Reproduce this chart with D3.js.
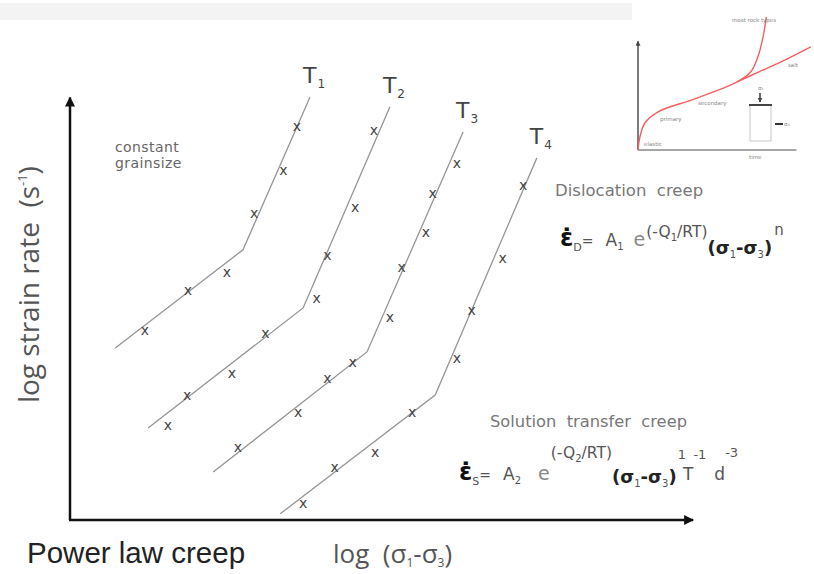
<!DOCTYPE html>
<html>
<head>
<meta charset="utf-8">
<script src="https://cdn.jsdelivr.net/npm/d3@7"></script>
<style>
  body { margin: 0; background: #fff; }
  svg { display: block; }
  text { white-space: pre; }
</style>
</head>
<body>
<div class="chart"></div>
<script>
/*
----------------------------------------------------------
                   data
----------------------------------------------------------
*/
// four temperatures, T1 (coldest) .. T4
var temps = ["1", "2", "3", "4"];

// each line: start, kink (regime change), end  (log stress, log strain rate)
var lineStress = [
	[7.3, 27.9, 38.7],
	[12.6, 37.6, 51.6],
	[23.1, 47.9, 63.4],
	[33.9, 58.9, 75.3]
];
var lineRate = [
	[39.1, 61.4, 96.1],
	[20.9, 48.2, 93.9],
	[10.9, 38.2, 88.2],
	[1.4, 28.4, 82.3]
];

// measured points ("x")
var pointStress = [
	[12.1, 19.0, 25.3, 29.7, 34.4, 36.6],
	[15.8, 18.9, 26.1, 31.5, 39.8, 41.5, 46.0, 49.0],
	[27.1, 36.8, 41.5, 45.6, 51.6, 53.5, 57.4, 58.5, 62.4],
	[37.6, 42.7, 49.2, 55.2, 62.4, 64.8, 69.8, 73.1]
];
var pointRate = [
	[43.2, 52.3, 56.4, 69.8, 79.5, 89.5],
	[21.6, 28.4, 33.4, 42.5, 50.5, 60.2, 71.1, 88.6],
	[16.6, 24.5, 32.3, 35.9, 46.1, 57.5, 65.5, 74.3, 81.1],
	[3.9, 12.0, 15.5, 24.5, 36.8, 47.7, 59.5, 76.1]
];

// inset creep curve (time, strain)
var creepTime   = [0, 1.2, 4.3, 12.3, 33.3, 53.7, 61.7];
var creepStrain = [0, 11.6, 24.1, 33.9, 44.6, 55.4, 60.7];
var rockTime    = [61.7, 70.4, 75.3, 78.4, 80.2];
var rockStrain  = [60.7, 69.6, 84.8, 102.7, 118.8];
var saltTime    = [61.7, 75.3, 90.7, 108];
var saltStrain  = [60.7, 69.6, 79.5, 92];

/*
----------------------------------------------------------
                   the svg
----------------------------------------------------------
*/
var W = 814, H = 574;
var svg = d3.select(".chart").append("svg")
	.attr("width", W)
	.attr("height", H);

var gothic = "'DejaVu Sans', sans-serif";
var lineGrey = "#959595";

// faint header strip
svg.append("rect")
	.attr("x", 0).attr("y", 3)
	.attr("width", 632).attr("height", 17)
	.attr("fill", "#f3f3f3");

var x = d3.scaleLinear().domain([0, 100]).range([70, 690]);
var y = d3.scaleLinear().domain([0, 100]).range([520, 80]);

var defs = svg.append("defs");
defs.append("marker")
	.attr("id", "arrow")
	.attr("viewBox", "0 0 10 10")
	.attr("refX", 9).attr("refY", 5)
	.attr("markerWidth", 10).attr("markerHeight", 10)
	.attr("markerUnits", "userSpaceOnUse")
	.attr("orient", "auto")
	.append("path")
		.attr("d", "M0,0 L10,5 L0,10 z")
		.attr("fill", "#111");
defs.append("marker")
	.attr("id", "arrowSmall")
	.attr("viewBox", "0 0 10 10")
	.attr("refX", 9).attr("refY", 5)
	.attr("markerWidth", 5).attr("markerHeight", 5)
	.attr("markerUnits", "userSpaceOnUse")
	.attr("orient", "auto")
	.append("path")
		.attr("d", "M0,0 L10,5 L0,10 z")
		.attr("fill", "#444");

/*
----------------------------------------------------------
                   axes
----------------------------------------------------------
*/
var axes = svg.append("g").attr("class", "axes");
axes.append("line")
	.attr("x1", x(0)).attr("y1", y(0))
	.attr("x2", x(0)).attr("y2", y(96))
	.attr("stroke", "#111").attr("stroke-width", 2.5)
	.attr("marker-end", "url(#arrow)");
axes.append("line")
	.attr("x1", x(0) - 1).attr("y1", y(0))
	.attr("x2", x(100.5)).attr("y2", y(0))
	.attr("stroke", "#111").attr("stroke-width", 2.5)
	.attr("marker-end", "url(#arrow)");

var yLabel = axes.append("text")
	.attr("transform", "translate(" + 39 + "," + y(53.5) + ") rotate(-90)")
	.attr("text-anchor", "middle")
	.attr("font-family", "'Open Sans', sans-serif")
	.attr("font-size", 28)
	.attr("fill", "#555");
yLabel.append("tspan").text("log strain rate  (s");
yLabel.append("tspan").attr("font-size", 13).attr("dy", -12).text("-1");
yLabel.append("tspan").attr("dy", 12).text(")");

var xLabel = axes.append("text")
	.attr("x", 333).attr("y", 563)
	.attr("font-family", "'Open Sans', sans-serif")
	.attr("font-size", 26)
	.attr("fill", "#555");
xLabel.append("tspan").text("log  (σ");
xLabel.append("tspan").attr("font-size", 12).attr("dy", 4).text("1");
xLabel.append("tspan").attr("dy", -4).text("-σ");
xLabel.append("tspan").attr("font-size", 12).attr("dy", 4).text("3");
xLabel.append("tspan").attr("dy", -4).text(")");

svg.append("text")
	.attr("x", 27).attr("y", 563)
	.attr("font-family", "'Liberation Sans', Arial, sans-serif")
	.attr("font-size", 29.5)
	.attr("fill", "#222")
	.text("Power law creep");

/*
----------------------------------------------------------
                   the temperature lines
----------------------------------------------------------
*/
var line = d3.line()
	.x(function(d) { return x(d[0]); })
	.y(function(d) { return y(d[1]); });

var lines = temps.map(function(t, i) {
	return {
		name: t,
		pts: d3.zip(lineStress[i], lineRate[i]),
		marks: d3.zip(pointStress[i], pointRate[i])
	};
});

var plot = svg.append("g").attr("class", "plot");
plot.selectAll(".tline").data(lines).enter()
	.append("path")
		.attr("class", "tline")
		.attr("d", function(d) { return line(d.pts); })
		.attr("fill", "none")
		.attr("stroke", lineGrey)
		.attr("stroke-width", 1.3);

plot.selectAll(".marks").data(lines).enter()
	.append("g").attr("class", "marks")
	.selectAll("text").data(function(d) { return d.marks; }).enter()
	.append("text")
		.attr("x", function(d) { return x(d[0]); })
		.attr("y", function(d) { return y(d[1]); })
		.attr("text-anchor", "middle")
		.attr("dominant-baseline", "central")
		.attr("font-family", gothic)
		.attr("font-size", 14)
		.attr("fill", "#444")
		.text("x");

var tLabels = plot.selectAll(".tlabel").data(lines).enter()
	.append("text")
		.attr("class", "tlabel")
		.attr("x", function(d) { return x(d.pts[2][0]) - 7; })
		.attr("y", function(d) { return y(d.pts[2][1]) - 14; })
		.attr("font-family", "'DejaVu Sans', sans-serif")
		.attr("font-size", 22)
		.attr("fill", "#444");
tLabels.append("tspan").text("T");
tLabels.append("tspan")
	.attr("font-size", 12)
	.attr("dx", 1)
	.attr("dy", 5)
	.text(function(d) { return d.name; });

/*
----------------------------------------------------------
                   annotations
----------------------------------------------------------
*/
var notes = svg.append("g").attr("font-family", gothic).attr("fill", "#666");
notes.append("text").attr("x", 115).attr("y", 152).attr("font-size", 14).attr("letter-spacing", 0.4).text("constant");
notes.append("text").attr("x", 115).attr("y", 168).attr("font-size", 14).attr("letter-spacing", 0.4).text("grainsize");
notes.append("text").attr("x", 555).attr("y", 196).attr("font-size", 16.5).attr("fill", "#777").text("Dislocation  creep");
notes.append("text").attr("x", 490).attr("y", 427).attr("font-size", 16.3).attr("fill", "#777").text("Solution  transfer  creep");

// formula pieces: [text, size, baseline offset, colour, bold, dx]
function formula(x0, y0, pieces) {
	var t = svg.append("text")
		.attr("x", x0).attr("y", y0)
		.attr("font-family", gothic);
	pieces.forEach(function(p) {
		t.append("tspan")
			.attr("y", y0 + p[2])
			.attr("dx", p[5] || 0)
			.attr("font-size", p[1])
			.attr("fill", p[3])
			.attr("font-weight", p[4] ? "bold" : "normal")
			.text(p[0]);
	});
}

var dark = "#222", mid = "#555", light = "#888";
formula(560, 246, [
	["ε\u0307", 24, 0, "#111", true],
	["D", 11, 5, mid],
	["=", 14, 0, mid],
	["A", 17, 0, mid, false, 12],
	["1", 10, 4, mid],
	["e", 19, 0, light, false, 10],
	["(-Q", 15.5, -9, mid, false, 1],
	["1", 10, -5, mid],
	["/RT)", 15.5, -9, mid],
	["(σ", 18, 8, dark, true],
	["1", 10, 12, mid],
	["-σ", 18, 8, dark, true],
	["3", 10, 12, mid],
	[")", 18, 8, dark, true],
	["n", 15, -11, mid, false, 2]
]);
formula(459, 480, [
	["ε\u0307", 24, 0, "#111", true],
	["S", 11, 5, mid],
	["=", 14, 0, mid],
	["A", 17, 0, mid, false, 12],
	["2", 10, 4, mid],
	["e", 19, 0, light, false, 17],
	["(-Q", 15.5, -22, mid, false, 1],
	["2", 10, -18, mid],
	["/RT)", 15.5, -22, mid],
	["(σ", 18, 3, dark, true],
	["1", 10, 7, mid],
	["-σ", 18, 3, dark, true],
	["3", 10, 7, mid],
	[")", 18, 3, dark, true],
	["1", 13, -21, mid, false, 1],
	["T", 17, 0, mid, false, -3],
	["-1", 13, -21, mid],
	["d", 17, 0, mid, false, 8],
	["-3", 13, -23, mid]
]);

/*
----------------------------------------------------------
                   inset: creep curve
----------------------------------------------------------
*/
var ix = d3.scaleLinear().domain([0, 100]).range([638, 798]);
var iy = d3.scaleLinear().domain([0, 100]).range([150, 38]);
var inset = svg.append("g").attr("class", "inset");

inset.append("line")
	.attr("x1", ix(0)).attr("y1", iy(0))
	.attr("x2", ix(0)).attr("y2", iy(97))
	.attr("stroke", "#444").attr("stroke-width", 1.4)
	.attr("marker-end", "url(#arrowSmall)");
inset.append("line")
	.attr("x1", ix(0)).attr("y1", iy(0))
	.attr("x2", ix(99)).attr("y2", iy(0))
	.attr("stroke", "#888").attr("stroke-width", 1.4);

var iline = d3.line()
	.curve(d3.curveCatmullRom)
	.x(function(d) { return ix(d[0]); })
	.y(function(d) { return iy(d[1]); });

[d3.zip(creepTime, creepStrain), d3.zip(rockTime, rockStrain), d3.zip(saltTime, saltStrain)]
	.forEach(function(pts) {
		inset.append("path")
			.attr("d", iline(pts))
			.attr("fill", "none")
			.attr("stroke", "#f26060")
			.attr("stroke-width", 1.4);
	});

var iNotes = inset.append("g")
	.attr("font-family", gothic)
	.attr("font-size", 5.5)
	.attr("fill", "#888");
iNotes.append("text").attr("x", 732).attr("y", 22).text("most rock types");
iNotes.append("text").attr("x", 788).attr("y", 67).text("salt");
iNotes.append("text").attr("x", 698).attr("y", 105).text("secondary");
iNotes.append("text").attr("x", 660).attr("y", 121).text("primary");
iNotes.append("text").attr("x", 644).attr("y", 146).text("elastic");
iNotes.append("text").attr("x", 749).attr("y", 159).text("time");

// loaded sample
inset.append("rect")
	.attr("x", 750).attr("y", 105)
	.attr("width", 21).attr("height", 36)
	.attr("fill", "#fff")
	.attr("stroke", "#bbb").attr("stroke-width", 0.8);
inset.append("line")
	.attr("x1", 749).attr("y1", 105).attr("x2", 772).attr("y2", 105)
	.attr("stroke", "#444").attr("stroke-width", 2);
inset.append("line")
	.attr("x1", 760).attr("y1", 93).attr("x2", 760).attr("y2", 102)
	.attr("stroke", "#333").attr("stroke-width", 1.5)
	.attr("marker-end", "url(#arrowSmall)");
inset.append("line")
	.attr("x1", 775).attr("y1", 124).attr("x2", 783).attr("y2", 124)
	.attr("stroke", "#333").attr("stroke-width", 2);
iNotes.append("text").attr("x", 758).attr("y", 90).text("σ₁");
iNotes.append("text").attr("x", 784).attr("y", 126).text("σ₃");
</script>
</body>
</html>
